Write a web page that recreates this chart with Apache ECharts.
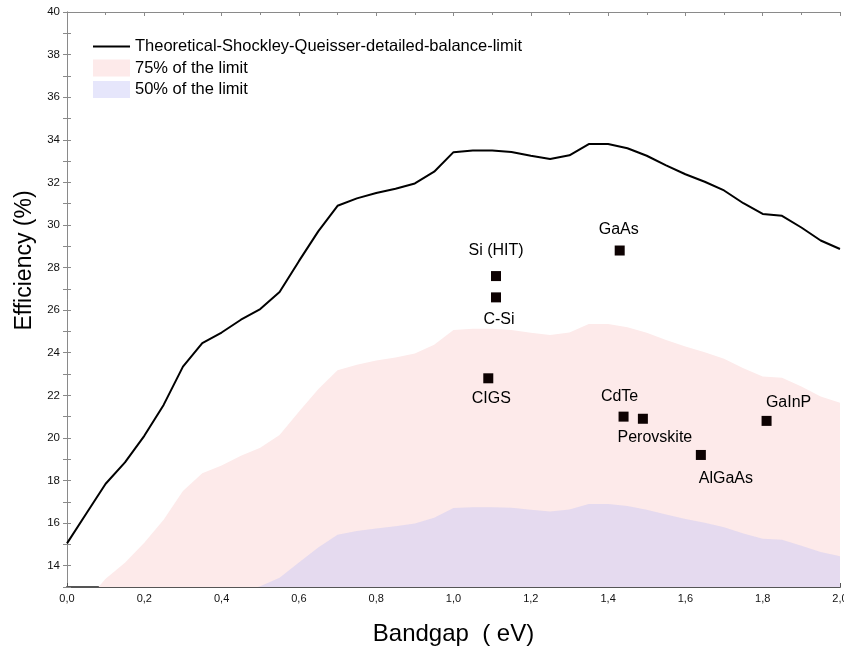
<!DOCTYPE html>
<html>
<head>
<meta charset="utf-8">
<script src="https://cdn.jsdelivr.net/npm/echarts@6/dist/echarts.min.js"></script>
<style>
  html, body { margin: 0; padding: 0; background: #fff; }
  #chart { width: 844px; height: 648px; }
</style>
</head>
<body>
<div id="chart"></div>
<script>
// Bandgap grid (eV)
const bandgap = [0.00, 0.05, 0.10, 0.15, 0.20, 0.25, 0.30, 0.35, 0.40, 0.45,
                 0.50, 0.55, 0.60, 0.65, 0.70, 0.75, 0.80, 0.85, 0.90, 0.95,
                 1.00, 1.05, 1.10, 1.15, 1.20, 1.25, 1.30, 1.35, 1.40, 1.45,
                 1.50, 1.55, 1.60, 1.65, 1.70, 1.75, 1.80, 1.85, 1.90, 1.95, 2.00];

// Shockley-Queisser detailed-balance limit (%)
const sqLimit = [15.05, 16.45, 17.85, 18.85, 20.10, 21.55, 23.35, 24.45, 24.95, 25.55,
                 26.05, 26.85, 28.30, 29.70, 30.90, 31.25, 31.50, 31.70, 31.95, 32.50,
                 33.42, 33.50, 33.50, 33.43, 33.25, 33.10, 33.27, 33.80, 33.80, 33.60,
                 33.25, 32.80, 32.38, 32.03, 31.62, 31.02, 30.52, 30.43, 29.88, 29.27, 28.87];

// 75 % of the limit (%)
const limit75 = [11.29, 12.34, 13.39, 14.14, 15.08, 16.16, 17.51, 18.34, 18.71, 19.16,
                 19.54, 20.14, 21.23, 22.28, 23.18, 23.44, 23.63, 23.78, 23.96, 24.38,
                 25.07, 25.13, 25.13, 25.07, 24.94, 24.83, 24.95, 25.35, 25.35, 25.20,
                 24.94, 24.60, 24.29, 24.02, 23.72, 23.27, 22.89, 22.82, 22.41, 21.95, 21.65];

// 50 % of the limit (%)
const limit50 = [7.53, 8.23, 8.93, 9.43, 10.05, 10.78, 11.68, 12.23, 12.48, 12.78,
                 13.03, 13.43, 14.15, 14.85, 15.45, 15.63, 15.75, 15.85, 15.98, 16.25,
                 16.71, 16.75, 16.75, 16.72, 16.63, 16.55, 16.64, 16.90, 16.90, 16.80,
                 16.63, 16.40, 16.19, 16.02, 15.81, 15.51, 15.26, 15.22, 14.94, 14.64, 14.44];

// Record cell technologies
const cellNames   = ['Si (HIT)', 'C-Si', 'GaAs', 'CIGS', 'CdTe', 'Perovskite', 'AlGaAs', 'GaInP'];
const cellGap     = [1.11, 1.11, 1.43, 1.09, 1.44, 1.49, 1.64, 1.81];
const cellEff     = [27.6, 26.6, 28.8, 22.8, 21.0, 20.9, 19.2, 20.8];

// Y tick labels shown on the efficiency axis
const yTickLabels = [14, 16, 18, 20, 22, 24, 26, 28, 30, 32, 34, 36, 38, 40];

const seriesNames = ['Theoretical-Shockley-Queisser-detailed-balance-limit',
                     '75% of the limit', '50% of the limit'];

// label placement around each marker: [dx, dy] of the text centre in px
const labelShift = {
  'Si (HIT)': [0, -25], 'C-Si': [3, 22], 'GaAs': [-1, -21], 'CIGS': [3, 20],
  'CdTe': [-4, -20], 'Perovskite': [12, 19], 'AlGaAs': [25, 24], 'GaInP': [22, -18]
};

const pinkFill = '#fdeaea';
const lilacFill = 'rgba(196, 196, 246, 0.42)';

const zip = (xs, ys) => xs.map((x, i) => [x, ys[i]]);

const symbolSize = 10;
const cellPoints = cellNames.map((name, i) => {
  const s = labelShift[name];
  return {
    name: name,
    value: [cellGap[i], cellEff[i]],
    label: {
      show: true,
      formatter: name,
      position: [symbolSize / 2 + s[0], symbolSize / 2 + s[1]],
      align: 'center',
      verticalAlign: 'middle'
    }
  };
});

const frameColor = '#8a8a8a';
const font = 'Arial, "Liberation Sans", sans-serif';

const chart = echarts.init(document.getElementById('chart'), null, { renderer: 'canvas' });

chart.setOption({
  animation: false,
  backgroundColor: '#ffffff',
  textStyle: { fontFamily: font },
  grid: { left: 67, right: 4, top: 12, bottom: 61, containLabel: false, outerBoundsMode: 'none' },
  legend: {
    orient: 'vertical',
    left: 93,
    top: 38,
    padding: 0,
    itemWidth: 37,
    itemHeight: 17,
    itemGap: 4.5,
    symbolKeepAspect: true,
    textStyle: { fontSize: 16.5, color: '#000', fontFamily: font },
    data: [
      { name: seriesNames[0], icon: 'path://M0 0H37V2H0Z', itemStyle: { color: '#000' } },
      { name: seriesNames[1], icon: 'rect', itemStyle: { color: pinkFill } },
      { name: seriesNames[2], icon: 'rect', itemStyle: { color: lilacFill } }
    ]
  },
  xAxis: [
    {
      type: 'value', position: 'bottom',
      min: 0, max: 2, interval: 0.2,
      name: 'Bandgap  ( eV)',
      nameLocation: 'middle',
      nameGap: 35,
      nameTextStyle: { fontSize: 24, color: '#000', fontFamily: font },
      axisLine: { show: true, lineStyle: { color: '#555', width: 2 } },
      axisTick: { inside: true, length: 4, lineStyle: { color: '#555' } },
      minorTick: { show: true, splitNumber: 2, length: 3, lineStyle: { color: '#555' } },
      axisLabel: {
        fontSize: 11, color: '#111', margin: 6, fontFamily: font,
        formatter: v => v.toFixed(1).replace('.', ',')
      },
      splitLine: { show: false }
    },
    {
      type: 'value', position: 'top',
      min: 0, max: 2, interval: 0.2,
      axisLine: { show: true, lineStyle: { color: frameColor, width: 1 } },
      axisTick: { inside: true, length: 4, lineStyle: { color: frameColor } },
      minorTick: { show: true, splitNumber: 2, length: 3, lineStyle: { color: frameColor } },
      axisLabel: { show: false },
      splitLine: { show: false }
    }
  ],
  yAxis: [
    {
      type: 'value', position: 'left',
      min: 13, max: 40, interval: 1,
      name: 'Efficiency (%)',
      nameLocation: 'middle',
      nameGap: 30,
      nameRotate: 90,
      nameTextStyle: { fontSize: 23, color: '#000', fontFamily: font, padding: [0, 0, 0, 78] },
      axisLine: { show: true, lineStyle: { color: frameColor, width: 1 } },
      axisTick: { inside: true, length: 4, lineStyle: { color: frameColor } },
      axisLabel: {
        fontSize: 11.5, color: '#111', margin: 7, fontFamily: font,
        formatter: v => (yTickLabels.indexOf(v) >= 0 ? String(v) : '')
      },
      splitLine: { show: false }
    },
    {
      type: 'value', position: 'right',
      min: 13, max: 40, interval: 1,
      axisLine: { show: true, lineStyle: { color: frameColor, width: 1 } },
      axisTick: { inside: true, length: 4, lineStyle: { color: frameColor } },
      axisLabel: { show: false },
      splitLine: { show: false }
    }
  ],
  series: [
    {
      name: seriesNames[1],
      type: 'line',
      data: zip(bandgap, limit75),
      symbol: 'none',
      clip: true,
      itemStyle: { color: pinkFill },
      lineStyle: { width: 0, color: pinkFill },
      areaStyle: { color: pinkFill, opacity: 1 },
      z: 1
    },
    {
      name: seriesNames[2],
      type: 'line',
      data: zip(bandgap, limit50),
      symbol: 'none',
      clip: true,
      itemStyle: { color: lilacFill },
      lineStyle: { width: 0, color: lilacFill },
      areaStyle: { color: lilacFill, opacity: 1 },
      z: 2
    },
    {
      name: seriesNames[0],
      type: 'line',
      data: zip(bandgap, sqLimit),
      symbol: 'none',
      clip: true,
      itemStyle: { color: '#000' },
      lineStyle: { width: 2, color: '#000' },
      z: 3
    },
    {
      name: 'cells',
      type: 'scatter',
      data: cellPoints,
      symbol: 'rect',
      symbolSize: symbolSize,
      itemStyle: { color: '#0d0202', opacity: 1 },
      label: { fontSize: 16, color: '#000', fontFamily: font, opacity: 1 },
      z: 4
    }
  ]
});
</script>
</body>
</html>
